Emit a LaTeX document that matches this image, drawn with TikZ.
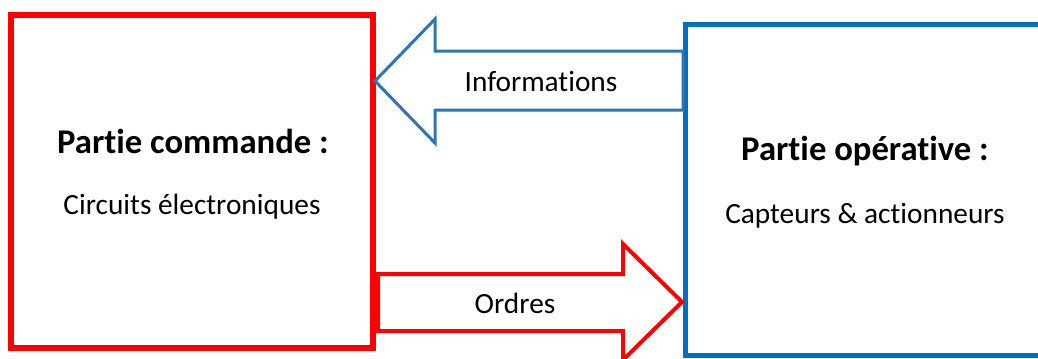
\documentclass[tikz,border=0pt]{standalone}
\usepackage{fontspec}
\setmainfont{Carlito}[Ligatures={NoCommon,NoContextual}]
\definecolor{boxred}{HTML}{FF0000}
\definecolor{boxblue}{HTML}{0070C0}
\definecolor{arrowblue}{HTML}{2E75B6}
\begin{document}
\begin{tikzpicture}[x=0.75pt,y=-0.75pt,
  titletext/.style={anchor=base,inner sep=0pt,font=\fontsize{26}{30}\selectfont\bfseries},
  subtext/.style={anchor=base,inner sep=0pt,font=\fontsize{22}{26}\selectfont},
  arrowtext/.style={anchor=base,inner sep=0pt,font=\fontsize{22}{26}\selectfont},
  redbox/.style={draw=boxred,line width=4.5pt},
  bluebox/.style={draw=boxblue,line width=3.75pt},
  bluearrow/.style={draw=arrowblue,line width=2.25pt,line join=miter},
  redarrow/.style={draw=boxred,line width=3pt,line join=miter}]
\useasboundingbox (0,0) rectangle (1038,358);
\clip (0,0) rectangle (1038,358);
% boxes
\draw[redbox] (11,15) rectangle (373,348);
\draw[bluebox] (685,24) rectangle (1048,355);
% block arrows
\coordinate (itip) at (375,81);
\draw[bluearrow] (itip) -- (435,19) -- (435,51) -- (683,51) -- (683,110) -- (435,110) -- (435,143) -- cycle;
\coordinate (otip) at (682,302);
\draw[redarrow] (378,274) -- (623,274) -- (623,244) -- (otip) -- (623,360) -- (623,331) -- (378,331) -- cycle;
% texts
\node[titletext] (cmdtitle) at (193,153) {Partie commande :};
\node[subtext] (cmdsub) at (192,214) {Circuits électroniques};
\node[titletext] (optitle) at (865,160) {Partie opérative :};
\node[subtext] (opsub) at (865,223) {Capteurs \& actionneurs};
\node[arrowtext] (info) at (541,91) {Informations};
\node[arrowtext] (ordres) at (515,313) {Ordres};
\end{tikzpicture}
\end{document}
